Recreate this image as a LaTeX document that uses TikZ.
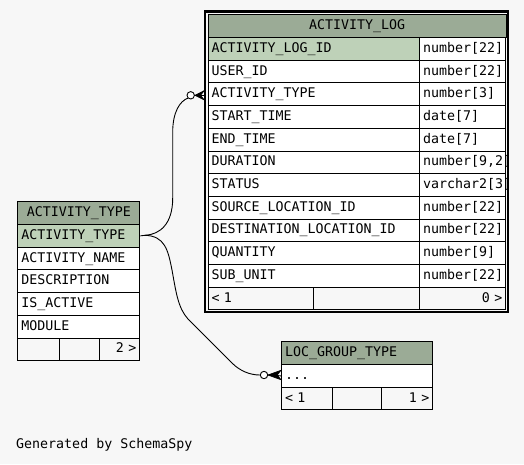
\documentclass[tikz,border=0pt]{standalone}
\usepackage{fontspec}
\setmonofont{DejaVu Sans Mono}
\definecolor{bg}{HTML}{F7F7F7}
\definecolor{hdr}{HTML}{9BAB96}
\definecolor{pkc}{HTML}{BED1B8}
\tikzset{
  cell/.style={draw=black, line width=1pt, anchor=north west, minimum height=22.7pt,
    inner xsep=3.5pt, inner ysep=0pt, font=\ttfamily\fontsize{13.3}{16}\selectfont,
    align=left, fill=white, text height=9.6pt, text depth=2.6pt},
  hcell/.style={cell, fill=hdr, minimum height=23pt},
  pcell/.style={cell, fill=pkc},
  fcell/.style={cell, fill=bg},
  conn/.style={draw=black, line width=0.9pt},
  opt/.style={circle, draw=black, line width=0.9pt, fill=white, inner sep=0pt, minimum size=7.4pt},
  crowf/.style={fill=black, draw=black, line width=0.7pt},
}
\begin{document}
\begin{tikzpicture}[x=1pt, y=-1pt]
\useasboundingbox (0,0) rectangle (524,464);
\fill[bg] (0,0) rectangle (524,464);

% ---------- ACTIVITY_LOG ----------
\node[hcell, text width=291.3pt, align=center] (al-h) at (207.5,14) {ACTIVITY\_LOG};
\begin{scope}
\clip (207,14) rectangle (506.5,310);
\node[pcell, text width=204.5pt] (al-n1) at (207.5,37) {ACTIVITY\_LOG\_ID};
\node[cell, text width=79.3pt] (al-t1) at (419,37) {number[22]};
\node[cell, text width=204.5pt] (al-n2) at (207.5,59.7) {USER\_ID};
\node[cell, text width=79.3pt] (al-t2) at (419,59.7) {number[22]};
\node[cell, text width=204.5pt] (al-n3) at (207.5,82.4) {ACTIVITY\_TYPE};
\node[cell, text width=79.3pt] (al-t3) at (419,82.4) {number[3]};
\node[cell, text width=204.5pt] (al-n4) at (207.5,105.1) {START\_TIME};
\node[cell, text width=79.3pt] (al-t4) at (419,105.1) {date[7]};
\node[cell, text width=204.5pt] (al-n5) at (207.5,127.8) {END\_TIME};
\node[cell, text width=79.3pt] (al-t5) at (419,127.8) {date[7]};
\node[cell, text width=204.5pt] (al-n6) at (207.5,150.5) {DURATION};
\node[cell, text width=79.3pt] (al-t6) at (419,150.5) {number[9,2]};
\node[cell, text width=204.5pt] (al-n7) at (207.5,173.2) {STATUS};
\node[cell, text width=79.3pt] (al-t7) at (419,173.2) {varchar2[3]};
\node[cell, text width=204.5pt] (al-n8) at (207.5,195.9) {SOURCE\_LOCATION\_ID};
\node[cell, text width=79.3pt] (al-t8) at (419,195.9) {number[22]};
\node[cell, text width=204.5pt] (al-n9) at (207.5,218.6) {DESTINATION\_LOCATION\_ID};
\node[cell, text width=79.3pt] (al-t9) at (419,218.6) {number[22]};
\node[cell, text width=204.5pt] (al-n10) at (207.5,241.3) {QUANTITY};
\node[cell, text width=79.3pt] (al-t10) at (419,241.3) {number[9]};
\node[cell, text width=204.5pt] (al-n11) at (207.5,264.0) {SUB\_UNIT};
\node[cell, text width=79.3pt] (al-t11) at (419,264.0) {number[22]};
\end{scope}
\node[fcell, text width=98.5pt] (al-f1) at (207.5,286.7) {< 1};
\node[fcell, text width=99pt] (al-f2) at (313,286.7) {};
\node[fcell, text width=79.3pt, align=right] (al-f3) at (419,286.7) {0 >};
\draw[line width=2.2pt] (205,11.5) rectangle (507.8,311.9);

% ---------- ACTIVITY_TYPE ----------
\node[hcell, text width=115pt, align=center] (at-h) at (17.3,201) {ACTIVITY\_TYPE};
\node[pcell, text width=115pt] (at-n1) at (17.3,224) {ACTIVITY\_TYPE};
\node[cell, text width=115pt] (at-n2) at (17.3,246.7) {ACTIVITY\_NAME};
\node[cell, text width=115pt] (at-n3) at (17.3,269.4) {DESCRIPTION};
\node[cell, text width=115pt] (at-n4) at (17.3,292.1) {IS\_ACTIVE};
\node[cell, text width=115pt] (at-n5) at (17.3,314.8) {MODULE};
\node[fcell, text width=35pt] (at-f1) at (17.3,337.5) {};
\node[fcell, text width=33pt] (at-f2) at (59.3,337.5) {};
\node[fcell, text width=33pt, align=right] (at-f3) at (99.3,337.5) {2 >};

% ---------- LOC_GROUP_TYPE ----------
\node[hcell, text width=144.3pt] (lg-h) at (281,341) {LOC\_GROUP\_TYPE};
\node[cell, text width=144.3pt] (lg-n1) at (281,364) {...};
\node[fcell, text width=44.3pt] (lg-f1) at (281,386.7) {< 1};
\node[fcell, text width=42pt] (lg-f2) at (332.3,386.7) {};
\node[fcell, text width=44pt, align=right] (lg-f3) at (381.3,386.7) {1 >};

% ---------- connectors ----------
\coordinate (split) at (145,235.3);
\node[opt] (c1) at (190.7,95.3) {};
\node[opt] (c2) at (264,375) {};
\coordinate (k1) at (195,95.3);
\coordinate (k2) at (268,375);

\draw[conn] (at-n1.east) -- (split);
\draw[conn] (split) .. controls (160,234.5) and (172.7,224) .. (172.7,198)
  -- (172.7,132) .. controls (172.7,112) and (180,101) .. (c1.225);
\draw[conn] (split) .. controls (165,236) and (168,250) .. (172,270)
  .. controls (176,292) and (178,308) .. (188,319) -- (232,363)
  .. controls (240,371) and (250,375) .. (c2.west);

\fill[crowf] (k1) -- (204.3,90.6) -- (200.5,95.3) -- (204.3,100) -- cycle;
\draw[conn] (c1.east) -- (k1) -- (204.3,95.3);
\fill[crowf] (k2) -- (281,370.3) -- (277.2,375) -- (281,379.7) -- cycle;
\draw[conn] (c2.east) -- (k2) -- (lg-n1.west);

% ---------- footer ----------
\node[anchor=west, font=\ttfamily\fontsize{13.3}{16}\selectfont, inner sep=0pt] (gen) at (16,445) {Generated by SchemaSpy};
\end{tikzpicture}
\end{document}
